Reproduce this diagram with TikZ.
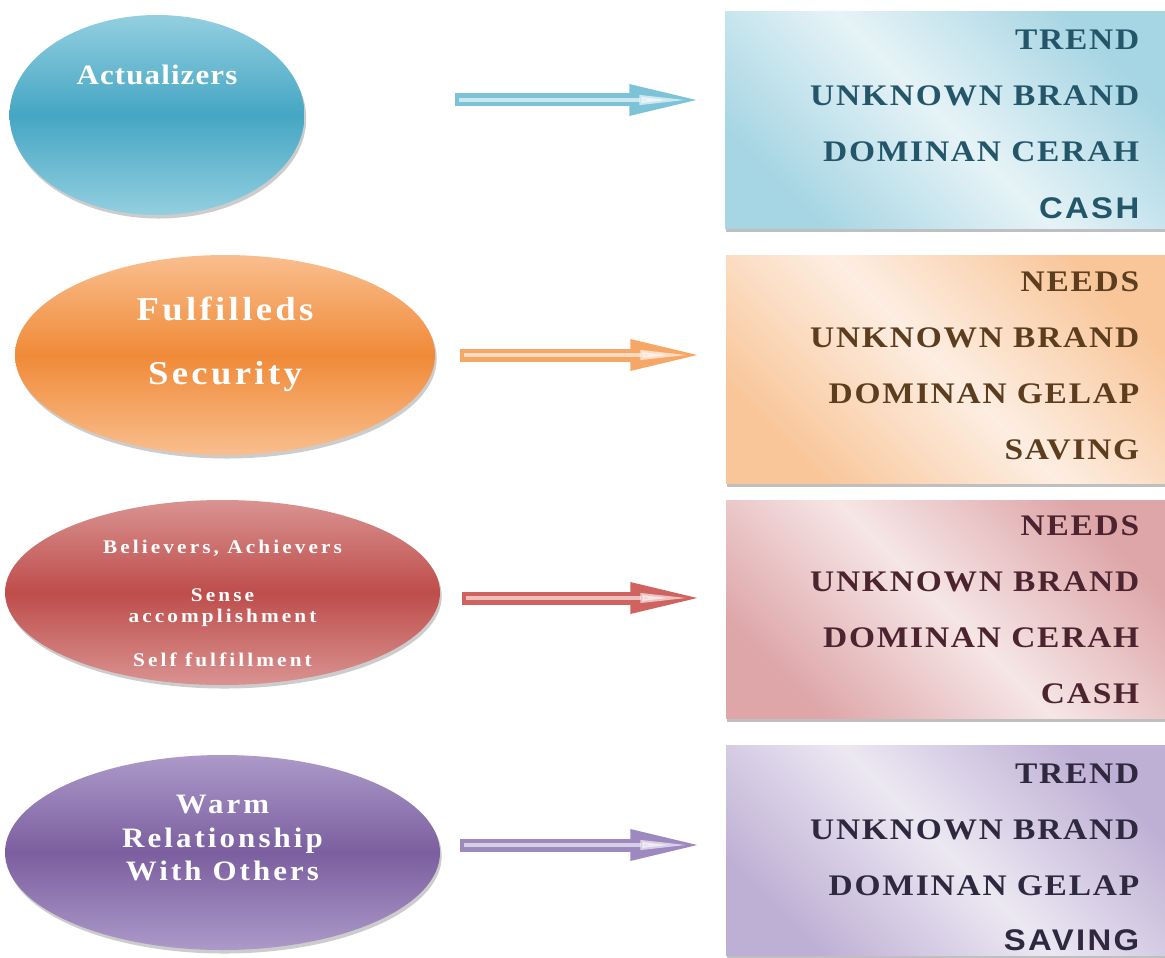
\documentclass[tikz,border=0pt]{standalone}
\usepackage{fontspec}
\setmainfont{Liberation Serif}
\newfontfamily\capfont{Liberation Serif}[LetterSpace=6,FakeStretch=1.12]
\newfontfamily\capsans{Liberation Sans}[LetterSpace=8,FakeStretch=1.1]
\newfontfamily\ovalfont{Liberation Serif}[LetterSpace=4,FakeStretch=1.1]
\newfontfamily\bigfont{Liberation Serif}[LetterSpace=10,FakeStretch=1.1]
\newfontfamily\warmfont{Liberation Serif}[LetterSpace=11,FakeStretch=1.1]
\newfontfamily\smallfont{Liberation Serif}[LetterSpace=16,FakeStretch=1.1]
\usetikzlibrary{arrows.meta,positioning,shapes.geometric,shadows}

\definecolor{tealL}{HTML}{93CFE0}
\definecolor{tealM}{HTML}{45A6C3}
\definecolor{tealA}{HTML}{7DC3D7}
\definecolor{tealP}{HTML}{E6F3F7}
\definecolor{tealQ}{HTML}{A6D5E3}
\definecolor{tealT}{HTML}{24566A}
\definecolor{orangeL}{HTML}{F9BE8E}
\definecolor{orangeM}{HTML}{F08A38}
\definecolor{orangeA}{HTML}{F6A765}
\definecolor{orangeP}{HTML}{FDEEE2}
\definecolor{orangeQ}{HTML}{F9C69A}
\definecolor{orangeT}{HTML}{5C3D1E}
\definecolor{redL}{HTML}{D99391}
\definecolor{redM}{HTML}{BE4D4B}
\definecolor{redA}{HTML}{D0625F}
\definecolor{redP}{HTML}{F6E6E6}
\definecolor{redQ}{HTML}{DEA6A9}
\definecolor{redT}{HTML}{4B2430}
\definecolor{purpleL}{HTML}{AC9AC9}
\definecolor{purpleM}{HTML}{7B5E9F}
\definecolor{purpleA}{HTML}{9D88C0}
\definecolor{purpleP}{HTML}{ECE8F2}
\definecolor{purpleQ}{HTML}{BEB0D5}
\definecolor{purpleT}{HTML}{2F2940}

\begin{document}
\begin{tikzpicture}[>=Stealth,thick]
\tikzstyle{oval}=[ellipse,inner sep=0pt,drop shadow={shadow xshift=1pt,shadow yshift=-2pt,opacity=0.4}]
\tikzstyle{panel}=[rectangle,inner sep=0pt,minimum width=8.8cm,drop shadow={shadow xshift=0.5pt,shadow yshift=-2.5pt,opacity=0.5}]
\tikzstyle{ovaltext}=[text=white,align=center,font=\fontsize{16}{19}\selectfont\ovalfont\bfseries]
\tikzstyle{smalltext}=[text=white,align=center,font=\fontsize{11}{12}\selectfont\smallfont\bfseries]
\tikzstyle{paneltext}=[anchor=base east,inner sep=0pt,font=\fontsize{17}{20}\selectfont\capfont\bfseries]
\tikzstyle{panelsans}=[anchor=base east,inner sep=0pt,font=\fontsize{17}{20}\selectfont\capsans\bfseries]
\tikzstyle{flow}=[line width=0.26cm,-{Triangle[length=1.5cm,width=0.55cm]},shorten >=0.4cm]
\tikzstyle{flowin}=[line width=0.08cm,white,opacity=0.6,-{Triangle[length=1.0cm,width=0.18cm]},shorten >=0.7cm,shorten <=0.08cm]

\useasboundingbox (0,0) rectangle (23.3,-19.14);

% ellipses
\node[oval,minimum width=5.9cm,minimum height=4cm,top color=tealL,bottom color=tealL,middle color=tealM] (act) at (3.14,-2.3) {};
\node[oval,minimum width=8.4cm,minimum height=4cm,top color=orangeL,bottom color=orangeL,middle color=orangeM] (ful) at (4.5,-7.1) {};
\node[oval,minimum width=8.7cm,minimum height=3.7cm,top color=redL,bottom color=redL,middle color=redM] (bel) at (4.45,-11.85) {};
\node[oval,minimum width=8.7cm,minimum height=3.9cm,top color=purpleL,bottom color=purpleL,middle color=purpleM] (warm) at (4.45,-17.05) {};

\node[ovaltext] (actT) at (3.14,-1.5) {Actualizers};
\node[ovaltext,font=\fontsize{19}{22}\selectfont\bigfont\bfseries] (fulT) at (4.5,-6.89) {Fulfilleds\\[0.5cm]Security};
\node[smalltext] (belT) at (4.45,-10.96) {Believers, Achievers};
\node[smalltext] (senT) at (4.45,-12.15) {Sense\\accomplishment};
\node[smalltext] (selT) at (4.45,-13.2) {Self fulfillment};
\node[ovaltext,font=\fontsize{16}{19}\selectfont\warmfont\bfseries] (warmT) at (4.45,-16.76) {Warm\\Relationship\\With Others};

% panels
\node[panel,minimum height=4.32cm,top color=tealQ,bottom color=tealQ,middle color=tealP,shading angle=-45] (b1) at (18.9,-2.4) {};
\node[panel,minimum height=4.56cm,top color=orangeQ,bottom color=orangeQ,middle color=orangeP,shading angle=-45] (b2) at (18.92,-7.38) {};
\node[panel,minimum height=4.36cm,top color=redQ,bottom color=redQ,middle color=redP,shading angle=-45] (b3) at (18.92,-12.18) {};
\node[panel,minimum height=4.2cm,top color=purpleQ,bottom color=purpleQ,middle color=purpleP,shading angle=-45] (b4) at (18.92,-17.0) {};

\foreach \t [count=\i] in {TREND,UNKNOWN BRAND,DOMINAN CERAH}
  \node[paneltext,text=tealT] (b1t\i) at (22.8,{-1.0-1.12*(\i-1)}) {\t};
\node[panelsans,text=tealT] (b1t4) at (22.8,-4.36) {CASH};
\foreach \t [count=\i] in {NEEDS,UNKNOWN BRAND,DOMINAN GELAP,SAVING}
  \node[paneltext,text=orangeT] (b2t\i) at (22.8,{-5.82-1.126*(\i-1)}) {\t};
\foreach \t [count=\i] in {NEEDS,UNKNOWN BRAND,DOMINAN CERAH,CASH}
  \node[paneltext,text=redT] (b3t\i) at (22.8,{-10.7-1.12*(\i-1)}) {\t};
\foreach \t [count=\i] in {TREND,UNKNOWN BRAND,DOMINAN GELAP}
  \node[paneltext,text=purpleT] (b4t\i) at (22.8,{-15.66-1.12*(\i-1)}) {\t};
\node[panelsans,text=purpleT] (b4t4) at (22.8,-19.0) {SAVING};

% arrows
\coordinate (s1) at (9.1,-2.0);
\coordinate (s2) at (9.2,-7.1);
\coordinate (s3) at (9.24,-11.96);
\coordinate (s4) at (9.2,-16.9);
\foreach \n/\c in {1/tealA,2/orangeA,3/redA,4/purpleA}{
  \draw[flow,\c] (s\n) -- (s\n -| b\n.west);
  \draw[flowin] (s\n) -- (s\n -| b\n.west);
}
\end{tikzpicture}
\end{document}
